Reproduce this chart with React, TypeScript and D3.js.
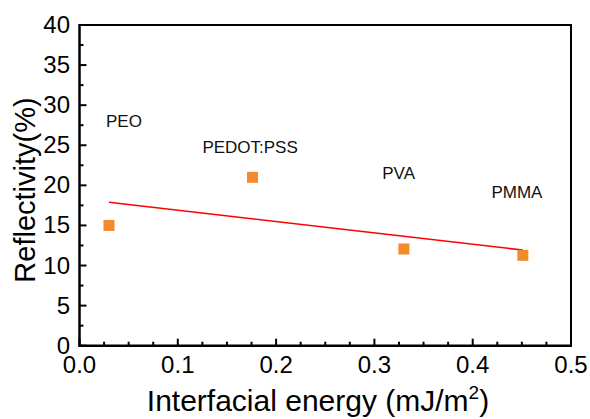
import React from "react";
import * as d3 from "d3";

const materials = ["PEO", "PEDOT:PSS", "PVA", "PMMA"];
const energy = [0.03, 0.176, 0.33, 0.451];
const reflectivity = [15, 21, 12.06, 11.27];
const fitX = [0.03, 0.451];
const fitY = [17.9, 11.93];
const labelX = [0.027, 0.125, 0.308, 0.419];
const labelY = [27.3, 24.0, 20.75, 18.45];
const xTicks = [0, 0.1, 0.2, 0.3, 0.4, 0.5];
const yTicks = [0, 5, 10, 15, 20, 25, 30, 35, 40];

const W = 590;
const H = 419;
const M = { left: 79.5, right: 571, top: 25, bottom: 345.7 };
const FONT = "'Liberation Sans', Arial, Helvetica, sans-serif";

export default function App() {
  const x = d3.scaleLinear().domain([0, 0.5]).range([M.left, M.right]);
  const y = d3.scaleLinear().domain([0, 40]).range([M.bottom, M.top]);
  const xMinor = d3.range(0, 0.5001, 0.025).filter((v) => Math.abs(v * 10 - Math.round(v * 10)) > 1e-6);
  const yMinor = d3.range(2.5, 40, 5);
  const line = d3
    .line<number>()
    .x((_, i) => x(fitX[i]))
    .y((_, i) => y(fitY[i]));
  const sq = 11;
  return (
    <svg
      width={W}
      height={H}
      style={{ position: "absolute", left: 0, top: 0, background: "#fff" }}
      fontFamily={FONT}
    >
      <rect x={0} y={0} width={W} height={H} fill="#fff" />
      {/* frame */}
      <path
        d={`M${M.left},${M.top}H${M.right}V${M.bottom}`}
        fill="none"
        stroke="#000"
        strokeWidth={2}
      />
      <path
        d={`M${M.left},${M.top - 1}V${M.bottom}H${M.right + 1}`}
        fill="none"
        stroke="#000"
        strokeWidth={2.5}
      />
      {/* x ticks */}
      {xTicks.map((t) => (
        <g key={"xt" + t}>
          <line x1={x(t)} x2={x(t)} y1={M.bottom} y2={M.bottom - 7} stroke="#000" strokeWidth={2} />
          <text x={x(t)} y={373} textAnchor="middle" fontSize={24} fill="#000">
            {t.toFixed(1)}
          </text>
        </g>
      ))}
      {xMinor.map((t) => (
        <line key={"xm" + t} x1={x(t)} x2={x(t)} y1={M.bottom} y2={M.bottom - 4} stroke="#000" strokeWidth={2} />
      ))}
      {/* y ticks */}
      {yTicks.map((t) => (
        <g key={"yt" + t}>
          <line x1={M.left} x2={M.left + 7} y1={y(t)} y2={y(t)} stroke="#000" strokeWidth={2} />
          <text x={70} y={y(t) + 8} textAnchor="end" fontSize={24} fill="#000">
            {t}
          </text>
        </g>
      ))}
      {yMinor.map((t) => (
        <line key={"ym" + t} x1={M.left} x2={M.left + 4} y1={y(t)} y2={y(t)} stroke="#000" strokeWidth={2} />
      ))}
      {/* fit line */}
      <path d={line(fitX) || ""} fill="none" stroke="#ff0000" strokeWidth={1.6} />
      {/* points */}
      {energy.map((e, i) => (
        <rect
          key={"p" + i}
          x={x(e) - sq / 2}
          y={y(reflectivity[i]) - sq / 2}
          width={sq}
          height={sq}
          fill="#f28a2e"
        />
      ))}
      {/* labels */}
      {materials.map((m, i) => (
        <text key={"l" + i} x={x(labelX[i])} y={y(labelY[i])} fontSize={17} fill="#111">
          {m}
        </text>
      ))}
      {/* axis titles */}
      <text x={318} y={411} textAnchor="middle" fontSize={30} fill="#000">
        Interfacial energy (mJ/m
        <tspan fontSize={19} dy={-12}>2</tspan>
        <tspan dy={12}>)</tspan>
      </text>
      <text
        transform={`translate(35,${190}) rotate(-90)`}
        textAnchor="middle"
        fontSize={29}
        fill="#000"
      >
        Reflectivity(%)
      </text>
    </svg>
  );
}
